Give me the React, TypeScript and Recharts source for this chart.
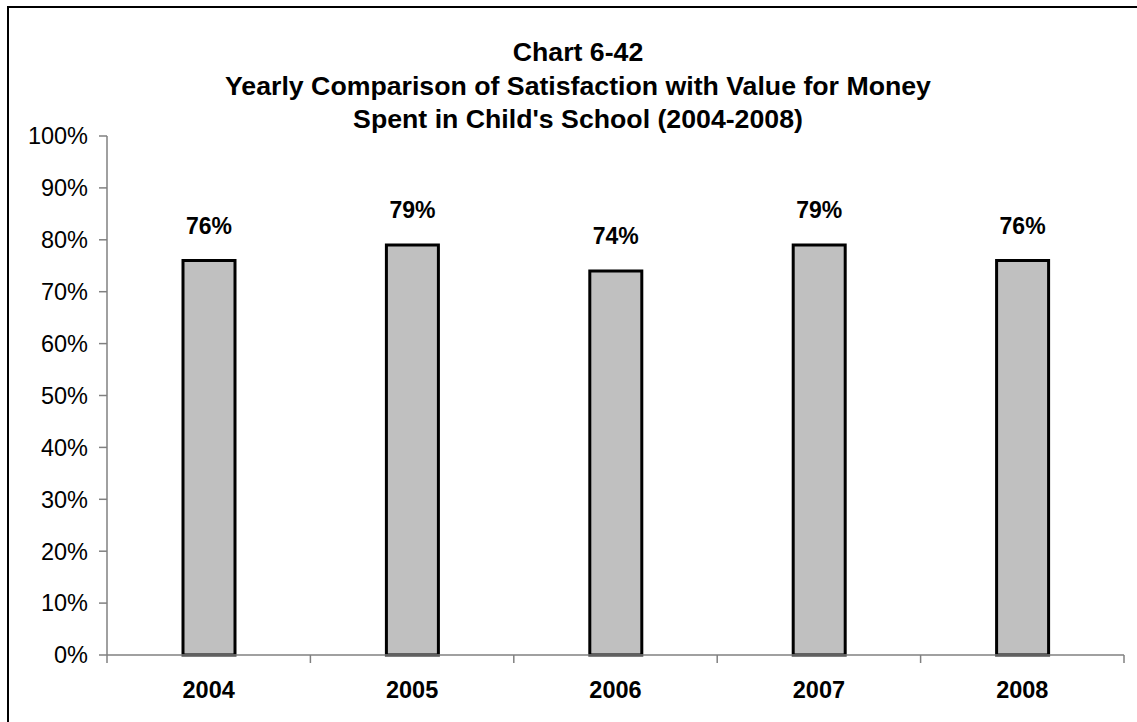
import { BarChart, Bar, XAxis, YAxis, LabelList } from "recharts";

const years = ["2004", "2005", "2006", "2007", "2008"];
const satisfied = [76, 79, 74, 79, 76];
const yTicks = [0, 10, 20, 30, 40, 50, 60, 70, 80, 90, 100];
const titleLines = [
  "Chart 6-42",
  "Yearly Comparison of Satisfaction with Value for Money",
  "Spent in Child's School (2004-2008)",
];

const data = years.map((year, i) => ({ year, value: satisfied[i] }));

const W = 1137;
const H = 722;
const PLOT_LEFT = 107;
const PLOT_RIGHT = 1124;
const BAND = (PLOT_RIGHT - PLOT_LEFT) / years.length;
const FONT = "'Liberation Sans', Arial, sans-serif";
const AXIS_GRAY = "#808080";

function CategoryTick(props: any) {
  const { x, y, payload, index } = props;
  const half = BAND / 2;
  return (
    <g>
      <line x1={x - half} x2={x - half} y1={y} y2={y + 8} stroke={AXIS_GRAY} strokeWidth={1.5} />
      {index === years.length - 1 && (
        <line x1={x + half} x2={x + half} y1={y} y2={y + 8} stroke={AXIS_GRAY} strokeWidth={1.5} />
      )}
      <text
        x={x}
        y={y + 43}
        textAnchor="middle"
        fontFamily={FONT}
        fontSize={23.5}
        fontWeight="bold"
        fill="#000"
      >
        {payload.value}
      </text>
    </g>
  );
}

export default function App() {
  return (
    <div
      style={{
        position: "absolute",
        left: 0,
        top: 0,
        width: W,
        height: H,
        overflow: "hidden",
        background: "#fff",
        fontFamily: FONT,
      }}
    >
      <div
        style={{
          position: "absolute",
          left: 7,
          top: 6,
          width: 1300,
          height: 900,
          borderLeft: "2px solid #000",
          borderTop: "2px solid #000",
        }}
      />
      <div
        style={{
          position: "absolute",
          left: 178,
          top: 36,
          width: 800,
          textAlign: "center",
          fontSize: 26.7,
          fontWeight: "bold",
          lineHeight: "33.5px",
          color: "#000",
        }}
      >
        {titleLines.map((t) => (
          <div key={t}>{t}</div>
        ))}
      </div>
      <div style={{ position: "absolute", left: 0, top: 0 }}>
        <BarChart
          width={W}
          height={H}
          data={data}
          margin={{ top: 136, right: W - PLOT_RIGHT, bottom: 27, left: 7 }}
        >
          <XAxis
            dataKey="year"
            type="category"
            height={40}
            tickSize={0}
            tickMargin={0}
            tickLine={false}
            axisLine={{ stroke: AXIS_GRAY, strokeWidth: 1.5 }}
            tick={<CategoryTick />}
            interval={0}
          />
          <YAxis
            width={100}
            domain={[0, 100]}
            ticks={yTicks}
            interval={0}
            tickFormatter={(v: number) => `${v}%`}
            tickSize={8}
            tickMargin={11}
            tickLine={{ stroke: AXIS_GRAY, strokeWidth: 1.5 }}
            axisLine={{ stroke: AXIS_GRAY, strokeWidth: 1.5 }}
            tick={{ fill: "#000", fontSize: 23.5, fontFamily: FONT }}
          />
          <Bar
            dataKey="value"
            fill="#C0C0C0"
            stroke="#000"
            strokeWidth={3}
            barSize={52}
            isAnimationActive={false}
          >
            <LabelList
              dataKey="value"
              position="top"
              offset={27}
              formatter={(v: any) => `${v}%`}
              style={{ fill: "#000", fontSize: 23, fontWeight: "bold", fontFamily: FONT }}
            />
          </Bar>
        </BarChart>
      </div>
    </div>
  );
}
